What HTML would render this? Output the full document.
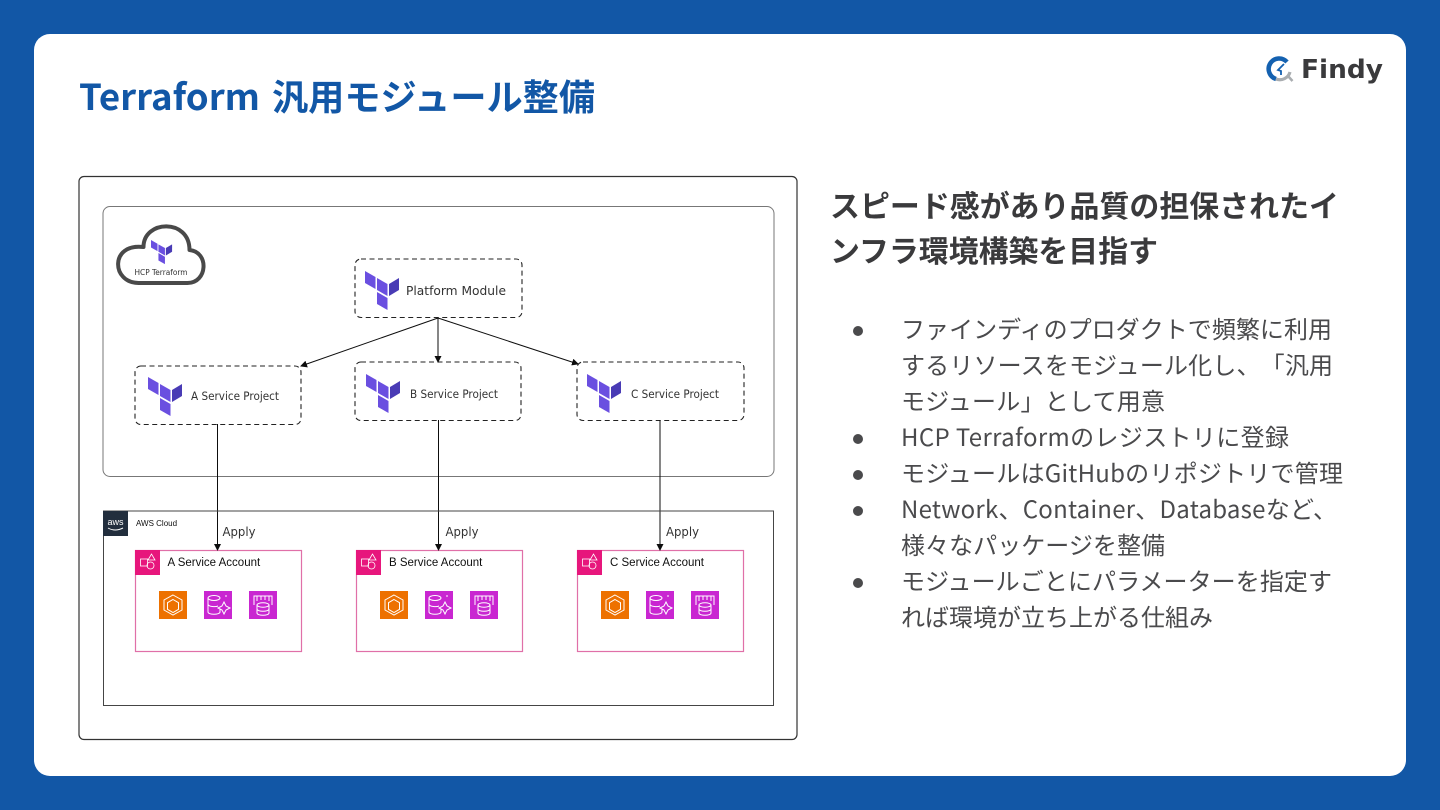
<!DOCTYPE html>
<html lang="ja"><head><meta charset="utf-8"><style>
html,body{margin:0;padding:0;width:1440px;height:810px;overflow:hidden;background:#1257a6}
svg{display:block}
text{text-spacing-trim:space-all;font-feature-settings:"chws" 0}
</style></head><body>
<svg width="1440" height="810" viewBox="0 0 1440 810" xmlns="http://www.w3.org/2000/svg">
<defs>
<filter id="soft" filterUnits="userSpaceOnUse" x="0" y="170" width="800" height="575"><feGaussianBlur stdDeviation="0.22"/></filter>
<g id="tf"><polygon points="0,0 10.5,6 10.5,18 0,12" fill="#6a4fe0"/><polygon points="12,7 22.5,13 22.5,25 12,19" fill="#6a4fe0"/><polygon points="24,13 34,7 34,19 24,25" fill="#4a3bb5"/><polygon points="12,21 22.5,27 22.5,39 12,33" fill="#6a4fe0"/></g>
<marker id="a" markerWidth="7" markerHeight="7" refX="6" refY="3.5" orient="auto"><polygon points="0,0 7,3.5 0,7" fill="#111"/></marker>
<g id="acct">
<rect x="0.5" y="0.5" width="166" height="101" fill="#fff" stroke="#e070a8" stroke-width="1.2"/>
<rect width="25" height="25" fill="#e7157b"/>
<g fill="none" stroke="#fff" stroke-width="0.8"><rect x="5.500" y="9" width="7" height="7"/><path d="M13 10l3.500-6 3.500 6z"/><circle cx="15.500" cy="15.500" r="3.500"/></g>
<rect x="24" y="41" width="28" height="28" fill="#ed7100"/><path d="M38 45l9 5v10l-9 5-9-5v-10z M38 49.500l5.500 3.200v6.600l-5.500 3.200-5.500-3.200v-6.600z" fill="none" stroke="#fff" stroke-width="1"/>
<rect x="69" y="41" width="28" height="28" fill="#c925d1"/><g fill="none" stroke="#fff" stroke-width="1"><ellipse cx="79" cy="48" rx="6" ry="2.500"/><path d="M73 48v14c0 3 12 3 12 0v-3M73 54c0 3 8 3 10 2"/><path d="M89 52l2 4 4 2-4 2-2 4-2-4-4-2 4-2z"/><path d="M90 46h2"/></g>
<rect x="114" y="41" width="28" height="28" fill="#c925d1"/><g fill="none" stroke="#fff" stroke-width="1"><path d="M119 55v-9h18v9M122 46v5M126 46v4M130 46v4M134 46v5"/><ellipse cx="128" cy="55" rx="6" ry="2.200"/><path d="M122 55v8c0 3 12 3 12 0v-8M122 59c0 3 12 3 12 0"/></g>
</g>
</defs>
<rect width="1440" height="810" fill="#1257a6"/>
<rect x="34" y="34" width="1372" height="742" rx="16" fill="#fff"/>
<g font-family="'Noto Sans CJK JP',sans-serif" font-weight="700" font-size="36" fill="#1257a6">
<text x="79" y="110" textLength="181" lengthAdjust="spacingAndGlyphs">Terraform</text>
<text x="272" y="110" textLength="323" lengthAdjust="spacingAndGlyphs">汎用モジュール整備</text>
</g>

<g transform="translate(1268,57)"><path d="M19 5A10.500 10.500 0 1 0 8 22" fill="none" stroke="#1461b0" stroke-width="4.500"/><path d="M8 22A10.500 10.500 0 0 0 22 15" fill="none" stroke="#a9adb0" stroke-width="3.200"/><path d="M20 19l4.500 5" stroke="#a9adb0" stroke-width="2.500"/><path d="M16 7l-6 6 3 1 0 4" fill="none" stroke="#1461b0" stroke-width="1.800"/></g>
<text x="1301" y="78" font-family="'DejaVu Sans',sans-serif" font-weight="700" font-size="26" fill="#3a3a3c" textLength="82" lengthAdjust="spacingAndGlyphs">Findy</text>

<g filter="url(#soft)">
<rect x="79" y="176.500" width="718" height="563" rx="5" fill="#fff" stroke="#333" stroke-width="1.200"/>
<rect x="103" y="206.500" width="671" height="270" rx="7" fill="#fff" stroke="#777" stroke-width="1"/>
<path d="M138.500 283H187.500C207.500 283 209.500 252 189.500 250C189.500 218 143.500 220 143.500 247C109.500 243 111.500 283 138.500 283Z" fill="#fff" stroke="#4a4a4a" stroke-width="4" stroke-linejoin="round"/>
<use href="#tf" transform="translate(151,240) scale(.62)"/>
<text x="161" y="275" text-anchor="middle" font-family="'DejaVu Sans',sans-serif" font-size="7.500" fill="#333" textLength="53" lengthAdjust="spacingAndGlyphs">HCP Terraform</text>

<g fill="#fff" stroke="#222" stroke-width="1.100" stroke-dasharray="5 3.500">
<rect x="355" y="259" width="167" height="58.500" rx="6"/>
<rect x="135" y="366" width="166" height="58.500" rx="6"/>
<rect x="355" y="362" width="166" height="58.500" rx="6"/>
<rect x="577" y="362" width="167" height="58.500" rx="6"/>
</g>
<use href="#tf" transform="translate(365,271)"/>
<use href="#tf" transform="translate(148,377)"/>
<use href="#tf" transform="translate(366,374)"/>
<use href="#tf" transform="translate(587,374)"/>
<g font-family="'DejaVu Sans',sans-serif" fill="#333">
<text x="406" y="295" font-size="12.500" textLength="100" lengthAdjust="spacingAndGlyphs">Platform Module</text>
<text x="191" y="400" font-size="11.500" textLength="88" lengthAdjust="spacingAndGlyphs">A Service Project</text>
<text x="410" y="398" font-size="11.500" textLength="88" lengthAdjust="spacingAndGlyphs">B Service Project</text>
<text x="631" y="398" font-size="11.500" textLength="88" lengthAdjust="spacingAndGlyphs">C Service Project</text>
</g>
<g stroke="#111" stroke-width="1" fill="none">
<path d="M438 318L301 366" marker-end="url(#a)"/>
<path d="M438 318V362" marker-end="url(#a)"/>
<path d="M438 318L578 364" marker-end="url(#a)"/>
<path d="M217.500 424V550"/>
<path d="M438.500 420V550"/>
<path d="M660 420V550"/>
</g>

<path d="M103.500 511H773.500V705.500H103.500Z" fill="none" stroke="#444" stroke-width="1"/>
<rect x="103" y="511" width="25" height="25" fill="#232f3e"/>
<text x="115.500" y="525" text-anchor="middle" font-family="'Liberation Sans',sans-serif" font-size="9" fill="#fff">aws</text>
<path d="M108 528q7 4 15 0" stroke="#fff" stroke-width="1" fill="none"/>
<text x="136" y="526" font-family="'Liberation Sans',sans-serif" font-size="8" fill="#111">AWS Cloud</text>
<g font-family="'DejaVu Sans',sans-serif" font-size="12.500" fill="#333">
<text x="222.500" y="536" textLength="33" lengthAdjust="spacingAndGlyphs">Apply</text><text x="445.500" y="536" textLength="33" lengthAdjust="spacingAndGlyphs">Apply</text><text x="666" y="536" textLength="33" lengthAdjust="spacingAndGlyphs">Apply</text>
</g>
<use href="#acct" transform="translate(135,550)"/>
<use href="#acct" transform="translate(356,550)"/>
<use href="#acct" transform="translate(577,550)"/>
<polygon points="214,544 221,544 217.500,551" fill="#111"/><polygon points="435,544 442,544 438.500,551" fill="#111"/><polygon points="656.500,544 663.500,544 660,551" fill="#111"/>
<g font-family="'Liberation Sans',sans-serif" font-size="11.500" fill="#111">
<text x="167.500" y="566">A Service Account</text>
<text x="389" y="566">B Service Account</text>
<text x="610" y="566">C Service Account</text>
</g>
</g>

<g font-family="'Noto Sans CJK JP',sans-serif" font-weight="700" font-size="30" fill="#3a3a3c">
<text x="830" y="217" textLength="509" lengthAdjust="spacingAndGlyphs">スピード感があり品質の担保されたイ</text>
<text x="830" y="262" textLength="328" lengthAdjust="spacingAndGlyphs">ンフラ環境構築を目指す</text>
</g>
<g font-family="'Noto Sans CJK JP',sans-serif" font-size="24" fill="#4a4a4c">
<text x="901" y="338" textLength="431">ファインディのプロダクトで頻繁に利用</text>
<text x="901" y="374" textLength="432">するリソースをモジュール化し、「汎用</text>
<text x="901" y="410" textLength="264">モジュール」として用意</text>
<text x="901" y="446" textLength="388">HCP Terraformのレジストリに登録</text>
<text x="901" y="482" textLength="442">モジュールはGitHubのリポジトリで管理</text>
<text x="901" y="518" textLength="436">Network、Container、Databaseなど、</text>
<text x="901" y="554" textLength="264">様々なパッケージを整備</text>
<text x="901" y="590" textLength="431">モジュールごとにパラメーターを指定す</text>
<text x="901" y="626" textLength="312">れば環境が立ち上がる仕組み</text>
</g>
<g fill="#4a4a4c"><circle cx="858" cy="331" r="5"/><circle cx="858" cy="439" r="5"/><circle cx="858" cy="475" r="5"/><circle cx="858" cy="511" r="5"/><circle cx="858" cy="583" r="5"/></g>
</svg>
</body></html>
